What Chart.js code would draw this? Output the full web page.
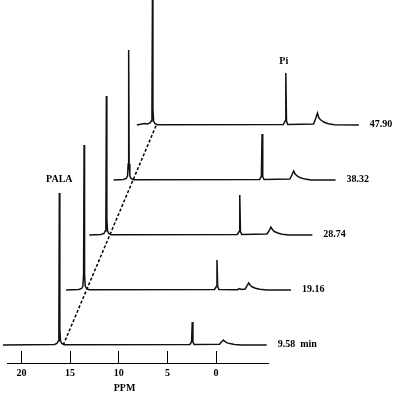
<!DOCTYPE html>
<html lang="en">
<head>
<meta charset="UTF-8">
<title>31P NMR: PALA hydrolysis</title>
<script src="https://cdn.jsdelivr.net/npm/chart.js@4.4.1/dist/chart.umd.min.js"></script>
<style>
  body { margin: 0; background: #fff; }
</style>
</head>
<body>
<canvas id="chart" width="400" height="394"></canvas>
<script>
// acquisition times, bottom spectrum first
const times = ['9.58  min', '19.16', '28.74', '38.32', '47.90'];
const tickValues = [20, 15, 10, 5, 0];
const palaPpm = [16.1, 15.95, 16.05, 16.15, 16.1];
const piPpm = [2.45, 2.3, 2.35, 2.45, 2.4];

// [ppm, intensity]
const spec958 = [
  [21.9, 0], [16.6, 0.5], [16.35, 1.5], [16.22, 4], [16.15, 16], [16.1, 152], [16.05, 16], [15.98, 4],
  [15.85, 1.5], [15.6, 0.3], [2.7, 0.5], [2.52, 3], [2.45, 23], [2.38, 3], [2.25, 0.5],
  [-0.35, 0.8], [-0.55, 3], [-0.75, 5], [-0.88, 3.8], [-1.08, 2.4], [-1.4, 1.4], [-1.9, 0.6], [-2.6, 0], [-5.2, 0]
];
const spec1916 = [
  [17.8, 0], [16.5, 0.5], [16.2, 1.5], [16.07, 4], [16.0, 16], [15.95, 145], [15.9, 16], [15.83, 4],
  [15.7, 1.5], [15.45, 0.3], [2.55, 0.5], [2.37, 3.5], [2.3, 30], [2.23, 3.5], [2.1, 0.5],
  [0.2, 0.3], [0.0, 1.5], [-0.2, 0.5], [-0.6, 1], [-0.78, 4], [-0.95, 7], [-1.1, 5], [-1.3, 3.2],
  [-1.65, 1.8], [-2.1, 0.7], [-2.8, 0], [-5.3, 0]
];
const spec2874 = [
  [17.8, 0], [16.6, 0.5], [16.3, 1.5], [16.17, 4], [16.1, 16], [16.05, 139], [16.0, 16], [15.93, 4],
  [15.8, 1.5], [15.55, 0.3], [2.6, 0.5], [2.42, 3.5], [2.35, 40], [2.28, 3.5], [2.15, 0.5],
  [-0.45, 1], [-0.68, 4.5], [-0.85, 8], [-1.0, 5.5], [-1.2, 3.5], [-1.55, 2], [-2.0, 0.8], [-2.7, 0], [-5.1, 0]
];
const spec3832 = [
  [17.7, 0], [16.7, 0.5], [16.4, 1.5], [16.27, 4], [16.2, 16], [16.15, 130], [16.1, 16], [16.03, 4],
  [15.9, 1.5], [15.65, 0.3], [2.7, 0.5], [2.52, 3.5], [2.45, 46], [2.38, 3.5], [2.25, 0.5],
  [-0.4, 1], [-0.62, 5], [-0.8, 9], [-0.95, 6], [-1.15, 4], [-1.5, 2.2], [-1.95, 0.9], [-2.6, 0], [-5.1, 0]
];
const spec4790 = [
  [17.7, 0], [16.9, 1.5], [16.6, 1], [16.35, 2], [16.22, 4], [16.15, 16], [16.1, 125], [16.05, 16], [15.98, 4],
  [15.85, 1.5], [15.6, 0.3], [2.65, 0.5], [2.47, 4], [2.4, 52], [2.33, 4], [2.2, 0.5],
  [-0.45, 1], [-0.65, 6], [-0.85, 12], [-1.0, 7], [-1.2, 5], [-1.5, 3], [-1.95, 1.2], [-2.6, 0.3], [-5.1, 0]
];
const spectra = [spec958, spec1916, spec2874, spec3832, spec4790];

// stacking: each later trace moves right and up
const STEP_PPM = 2.39;
const STEP_Y = 55;
const FONT = '"Liberation Serif", "Times New Roman", serif';

const datasets = spectra.map((s, k) => ({
  data: s.map(p => ({ x: p[0] - k * STEP_PPM, y: p[1] + k * STEP_Y })),
  borderColor: '#111',
  borderWidth: 1.5,
  pointRadius: 0,
  tension: 0,
  clip: false
}));

// dashed guide through the PALA peak feet
const last = spectra.length - 1;
datasets.push({
  data: [
    { x: palaPpm[0] - 0.4, y: 0 },
    { x: palaPpm[last] - 0.4 - last * STEP_PPM, y: last * STEP_Y }
  ],
  borderColor: '#000',
  borderWidth: 1.5,
  borderDash: [3, 2],
  pointRadius: 0,
  clip: false
});

const peakTop = (s, lo, hi) => Math.max(...s.filter(p => p[0] > lo && p[0] < hi).map(p => p[1]));

const textLabels = {
  id: 'textLabels',
  afterDatasetsDraw(chart) {
    const { ctx, scales: { x, y } } = chart;
    ctx.save();
    ctx.fillStyle = '#000';
    ctx.font = 'bold 10px ' + FONT;
    ctx.textBaseline = 'middle';
    ctx.textAlign = 'left';
    spectra.forEach((s, k) => {
      const end = s[s.length - 1][0] - k * STEP_PPM;
      ctx.fillText(times[k], x.getPixelForValue(end) + 11, y.getPixelForValue(k * STEP_Y) - 1);
    });
    ctx.textAlign = 'center';
    ctx.fillText('PALA', x.getPixelForValue(palaPpm[0]),
      y.getPixelForValue(peakTop(spec958, 10, 20)) - 14);
    ctx.fillText('Pi', x.getPixelForValue(piPpm[last] - last * STEP_PPM) - 2,
      y.getPixelForValue(peakTop(spec4790, 1, 4) + last * STEP_Y) - 12);
    ctx.fillText('PPM', x.getPixelForValue(9.4), chart.height - 6);
    ctx.restore();
  }
};

new Chart(document.getElementById('chart'), {
  type: 'line',
  data: { datasets },
  options: {
    responsive: false,
    animation: false,
    layout: { padding: { left: 7, right: 132, top: 0, bottom: 0 } },
    plugins: { legend: { display: false }, tooltip: { enabled: false } },
    scales: {
      x: {
        type: 'linear',
        reverse: true,
        min: -5.33,
        max: 21.44,
        afterBuildTicks: scale => { scale.ticks = tickValues.map(v => ({ value: v })); },
        afterFit: scale => { scale.height = 31; },
        border: { display: true, color: '#000', width: 1 },
        grid: { drawOnChartArea: false, drawTicks: true, tickLength: -12, color: '#000' },
        ticks: {
          autoSkip: false,
          maxRotation: 0,
          padding: 16,
          color: '#000',
          font: { family: FONT, size: 10, weight: 'bold' }
        }
      },
      y: {
        display: false,
        min: -18,
        max: 345
      }
    }
  },
  plugins: [textLabels]
});
</script>
</body>
</html>
